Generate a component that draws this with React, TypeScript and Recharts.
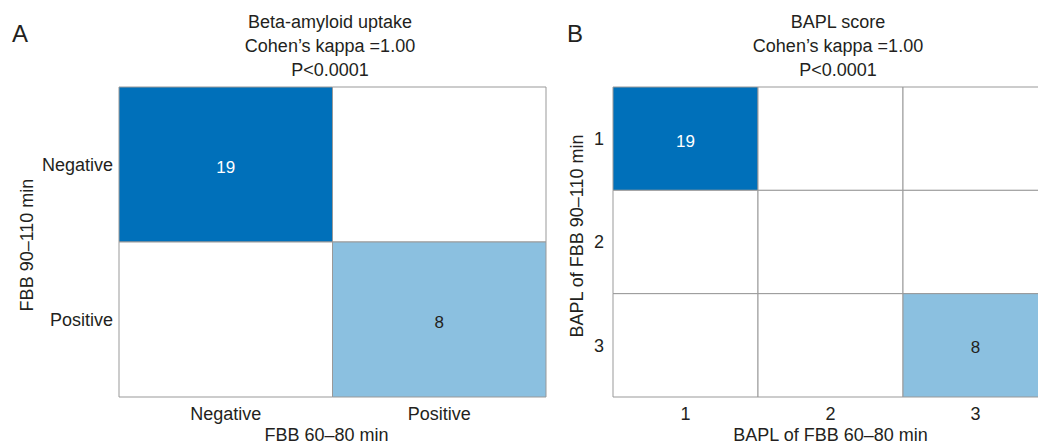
import { ScatterChart, Scatter, XAxis, YAxis, ReferenceArea } from 'recharts'

// Panel A: beta-amyloid uptake (rows = FBB 90–110 min, columns = FBB 60–80 min)
const uptakeLabels = ['Negative', 'Positive']
const uptakeNegativeRow = [19, 0]
const uptakePositiveRow = [0, 8]

// Panel B: BAPL score
const baplLabels = ['1', '2', '3']
const baplRow1 = [19, 0, 0]
const baplRow2 = [0, 0, 0]
const baplRow3 = [0, 0, 8]

const DARK = '#0070BA'
const LIGHT = '#8BC0E0'
const BORDER = '#999999'
const INK = '#231F20'
const FONT = '"Liberation Sans", Arial, Helvetica, sans-serif'

const cellFill = (count: number) => (count >= 10 ? DARK : count > 0 ? LIGHT : '#ffffff')

const toCells = (rows: number[][]) =>
  rows.flatMap((row, r) =>
    row.map((count, c) => ({ x: c + 0.5, y: r + 0.5, row: r, col: c, count }))
  )

const CountLabel = (props: any) => {
  const { cx, cy, payload } = props
  if (!payload || !payload.count) return <g />
  return (
    <text
      x={cx}
      y={cy + 8}
      textAnchor="middle"
      fontSize={17}
      fontFamily={FONT}
      fill={payload.count >= 10 ? '#ffffff' : INK}
    >
      {payload.count}
    </text>
  )
}

interface PanelProps {
  labels: string[]
  rows: number[][]
  left: number
  width: number
  yAxisWidth: number
  marginRight: number
  tickGap: number
  xTitle: string
  xTitleDx: number
  yTitle: string
  yTitleX: number
  yTitleDy: number
}

function HeatPanel({
  labels,
  rows,
  left,
  width,
  yAxisWidth,
  marginRight,
  tickGap,
  xTitle,
  xTitleDx,
  yTitle,
  yTitleX,
  yTitleDy,
}: PanelProps) {
  const n = labels.length
  const cells = toCells(rows)
  const ticks = labels.map((_, i) => i + 0.5)
  const fmt = (v: number) => labels[Math.floor(v)] ?? ''

  return (
    <div style={{ position: 'absolute', left, top: 0 }}>
      <ScatterChart
        width={width}
        height={444}
        margin={{ top: 87, right: marginRight, bottom: 0, left: 0 }}
      >
        <XAxis
          type="number"
          dataKey="x"
          domain={[0, n]}
          ticks={ticks}
          tickFormatter={fmt}
          axisLine={false}
          tickLine={false}
          tickSize={0}
          tickMargin={10}
          height={47}
          interval={0}
          tick={{ fontSize: 18, fill: INK, fontFamily: FONT }}
          label={(p: any) => {
            const vb = p.viewBox
            return (
              <text
                x={vb.x + vb.width / 2 + xTitleDx}
                y={vb.y + vb.height - 3}
                textAnchor="middle"
                fontSize={18}
                fontFamily={FONT}
                fill={INK}
              >
                {xTitle}
              </text>
            )
          }}
        />
        <YAxis
          type="number"
          dataKey="y"
          domain={[0, n]}
          reversed
          ticks={ticks}
          tickFormatter={fmt}
          axisLine={false}
          tickLine={false}
          tickSize={0}
          tickMargin={tickGap}
          width={yAxisWidth}
          interval={0}
          tick={{ fontSize: 18, fill: INK, fontFamily: FONT }}
          label={(p: any) => {
            const vb = p.viewBox
            const x = vb.x + yTitleX
            const y = vb.y + vb.height / 2 + yTitleDy
            return (
              <text
                x={x}
                y={y}
                transform={`rotate(-90, ${x}, ${y})`}
                textAnchor="middle"
                fontSize={18}
                fontFamily={FONT}
                fill={INK}
              >
                {yTitle}
              </text>
            )
          }}
        />
        {cells.map((c) => (
          <ReferenceArea
            key={`cell-${c.row}-${c.col}`}
            x1={c.col}
            x2={c.col + 1}
            y1={c.row}
            y2={c.row + 1}
            fill={cellFill(c.count)}
            fillOpacity={1}
            stroke={BORDER}
            strokeWidth={1}
          />
        ))}
        <Scatter data={cells} shape={CountLabel} isAnimationActive={false} />
      </ScatterChart>
    </div>
  )
}

function PanelTitle({ center, lines }: { center: number; lines: string[] }) {
  return (
    <div
      style={{
        position: 'absolute',
        left: center - 150,
        top: 10,
        width: 300,
        textAlign: 'center',
        fontSize: 18,
        lineHeight: '24px',
        fontFamily: FONT,
        color: INK,
      }}
    >
      {lines.map((l) => (
        <div key={l}>{l}</div>
      ))}
    </div>
  )
}

export default function App() {
  return (
    <div
      style={{
        position: 'absolute',
        left: 0,
        top: 0,
        width: 1038,
        height: 444,
        overflow: 'hidden',
        background: '#ffffff',
        fontFamily: FONT,
      }}
    >
      <div style={{ position: 'absolute', left: 12, top: 20, fontSize: 24, color: INK }}>A</div>
      <div style={{ position: 'absolute', left: 567, top: 20, fontSize: 24, color: INK }}>B</div>

      <PanelTitle center={330} lines={['Beta-amyloid uptake', 'Cohen’s kappa =1.00', 'P<0.0001']} />
      <PanelTitle center={838} lines={['BAPL score', 'Cohen’s kappa =1.00', 'P<0.0001']} />

      <HeatPanel
        labels={uptakeLabels}
        rows={[uptakeNegativeRow, uptakePositiveRow]}
        left={0}
        width={560}
        yAxisWidth={119}
        marginRight={14}
        tickGap={6}
        xTitle="FBB 60–80 min"
        xTitleDx={-6}
        yTitle="FBB 90–110 min"
        yTitleX={33}
        yTitleDy={3}
      />
      <HeatPanel
        labels={baplLabels}
        rows={[baplRow1, baplRow2, baplRow3]}
        left={560}
        width={500}
        yAxisWidth={53}
        marginRight={12}
        tickGap={9}
        xTitle="BAPL of FBB 60–80 min"
        xTitleDx={0}
        yTitle="BAPL of FBB 90–110 min"
        yTitleX={23}
        yTitleDy={-6}
      />
    </div>
  )
}
